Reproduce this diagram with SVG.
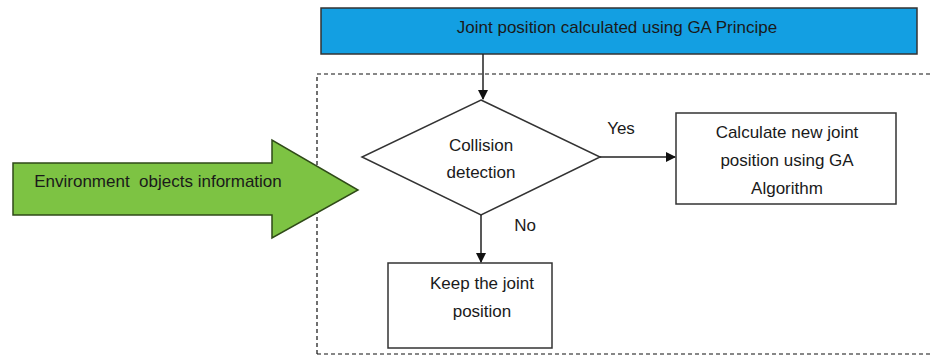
<svg xmlns="http://www.w3.org/2000/svg" width="932" height="358" viewBox="0 0 932 358">
<style>
text{font-family:"Liberation Sans",Arial,sans-serif;font-size:17px;fill:#1a1a1a;text-anchor:middle}
.box{fill:#fff;stroke:#333;stroke-width:1.5}
.conn{stroke:#222;stroke-width:1.5;fill:none}
</style>
<defs>
<marker id="ah" markerWidth="10" markerHeight="10" refX="9" refY="5" orient="auto" markerUnits="userSpaceOnUse">
<path d="M0,0 L10,5 L0,10 Z" fill="#111"/>
</marker>
</defs>
<rect width="932" height="358" fill="#fff"/>
<g id="frame">
<path d="M317,354 L317,74 L931,74 M317,354 L931,354" fill="none" stroke="#111" stroke-width="1.2" stroke-dasharray="4,3"/>
</g>
<g id="top">
<rect x="321" y="8" width="596" height="46" fill="#139fe2" stroke="#333" stroke-width="1.5"/>
<text x="617" y="33">Joint position calculated using GA Principe</text>
</g>
<g id="env">
<polygon points="13,163 272,163 272,140 358,190 272,238 272,215 13,215" fill="#7dc343" stroke="#2f4a18" stroke-width="1.5"/>
<text x="158" y="187" xml:space="preserve">Environment  objects information</text>
</g>
<g id="decision">
<polygon points="481,100 600,157 481,215 362,157" class="box"/>
<text x="481" y="151">Collision</text>
<text x="481" y="178">detection</text>
</g>
<g id="calc">
<rect x="676" y="113" width="220" height="91" class="box"/>
<text x="787" y="138">Calculate new joint</text>
<text x="787" y="166">position using GA</text>
<text x="787" y="194">Algorithm</text>
</g>
<g id="keep">
<rect x="388" y="263" width="164" height="85" class="box"/>
<text x="482" y="289">Keep the joint</text>
<text x="482" y="317">position</text>
</g>
<g id="connectors">
<line x1="483" y1="54" x2="483" y2="99" class="conn" marker-end="url(#ah)"/>
<line x1="600" y1="157" x2="675" y2="157" class="conn" marker-end="url(#ah)"/>
<line x1="481" y1="215" x2="481" y2="262" class="conn" marker-end="url(#ah)"/>
<text x="621" y="134">Yes</text>
<text x="525" y="231">No</text>
</g>
</svg>
